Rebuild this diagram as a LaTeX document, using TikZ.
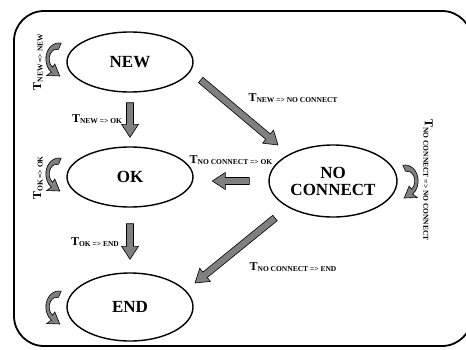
\documentclass[tikz,border=0pt]{standalone}
\usepackage{fontspec}
\setmainfont{Liberation Serif}
\usetikzlibrary{positioning,calc,shapes.geometric}
\tikzset{state/.style={ellipse,draw,line width=1.4pt,inner sep=0pt,minimum width=126pt,minimum height=60pt,align=center,
	 font=\fontsize{17}{17}\selectfont\bfseries},
	 fatarrow/.style={fill=gray,draw=black,line width=0.6pt},
	 trlabel/.style={inner sep=0pt,font=\fontsize{12}{12}\selectfont\bfseries},
	 loopback/.pic={
	   \filldraw[fatarrow] (80:16pt) arc[start angle=80,end angle=235,x radius=13pt,y radius=16pt]
	     -- (-11.5pt,-16.5pt) -- (1.5pt,-17pt) -- (-3.5pt,-5pt) -- (-5.7pt,-8.2pt)
	     arc[start angle=235,end angle=80,x radius=8pt,y radius=10pt] -- cycle;
	 }
	 }
\newcommand{\trans}[1]{T\raisebox{-1.5pt}{\fontsize{7.5}{8}\selectfont #1}}
\newcommand{\fatarrow}[2]{% from, to
	\coordinate (fa-h) at ($(#2)!13pt!(#1)$);
	\filldraw[fatarrow] ($(#1)!3.5pt!90:(#2)$) -- ($(fa-h)!3.5pt!90:(#2)$) -- ($(fa-h)!8.5pt!90:(#2)$) -- (#2)
	  -- ($(fa-h)!8.5pt!-90:(#2)$) -- ($(fa-h)!3.5pt!-90:(#2)$) -- ($(#1)!3.5pt!-90:(#2)$) -- cycle;}

\begin{document}
\begin{tikzpicture}[x=1pt,y=-1pt] % connection states
	\useasboundingbox (0,0) rectangle (466,349);
	\clip (0,0) rectangle (466,349);
	\draw[line width=1.8pt,rounded corners=30pt] (14,11) rectangle (472,346);

	\node[state] (new) at (130,62) {NEW};
	\node[state] (ok) at (130,177) {OK};
	\node[state,minimum height=68pt] (end) at (130,307) {END};
	\node[state,minimum width=128pt,minimum height=72pt] (nc) at (333,181) {NO\\CONNECT};

	% self loops
	\pic at ($(new.west)+(-8,-3)$) {loopback};
	\pic at ($(ok.west)+(-8,-3)$) {loopback};
	\pic at ($(end.west)+(-8,0)$) {loopback};
	\pic[xscale=-1] at ($(nc.east)+(8,0)$) {loopback};

	% transitions
	\coordinate (n-o1) at ($(new.south)+(0,10)$); \coordinate (n-o2) at ($(ok.north)+(0,-9)$);
	\coordinate (o-e1) at ($(ok.south)+(0,16)$); \coordinate (o-e2) at ($(end.north)+(0,-13)$);
	\coordinate (n-c1) at ($(new.east)+(7,18)$); \coordinate (n-c2) at ($(nc)+(-55,-36)$);
	\coordinate (c-o1) at ($(nc.west)+(-19,0)$); \coordinate (c-o2) at ($(nc.west)+(-56,0)$);
	\coordinate (c-e1) at ($(nc)+(-58,37)$); \coordinate (c-e2) at ($(end)+(65,-24)$);
	\fatarrow{n-o1}{n-o2} \fatarrow{o-e1}{o-e2} \fatarrow{n-c1}{n-c2}
	\fatarrow{c-o1}{c-o2} \fatarrow{c-e1}{c-e2}

	% labels
	\node[trlabel,rotate=90] (l-nn) at (38,62) {\trans{NEW => NEW}};
	\node[trlabel] (l-no) at (97,119) {\trans{NEW => OK}};
	\node[trlabel] (l-nc) at (293,98) {\trans{NEW => NO CONNECT}};
	\node[trlabel] (l-co) at (231,160) {\trans{NO CONNECT => OK}};
	\node[trlabel,rotate=90] (l-oo) at (38,178) {\trans{OK => OK}};
	\node[trlabel] (l-oe) at (95,242) {\trans{OK => END}};
	\node[trlabel] (l-ce) at (293,267) {\trans{NO CONNECT => END}};
	\node[trlabel,rotate=-90] (l-cc) at (428,180) {\trans{NO CONNECT => NO CONNECT}};
\end{tikzpicture}
\end{document}
